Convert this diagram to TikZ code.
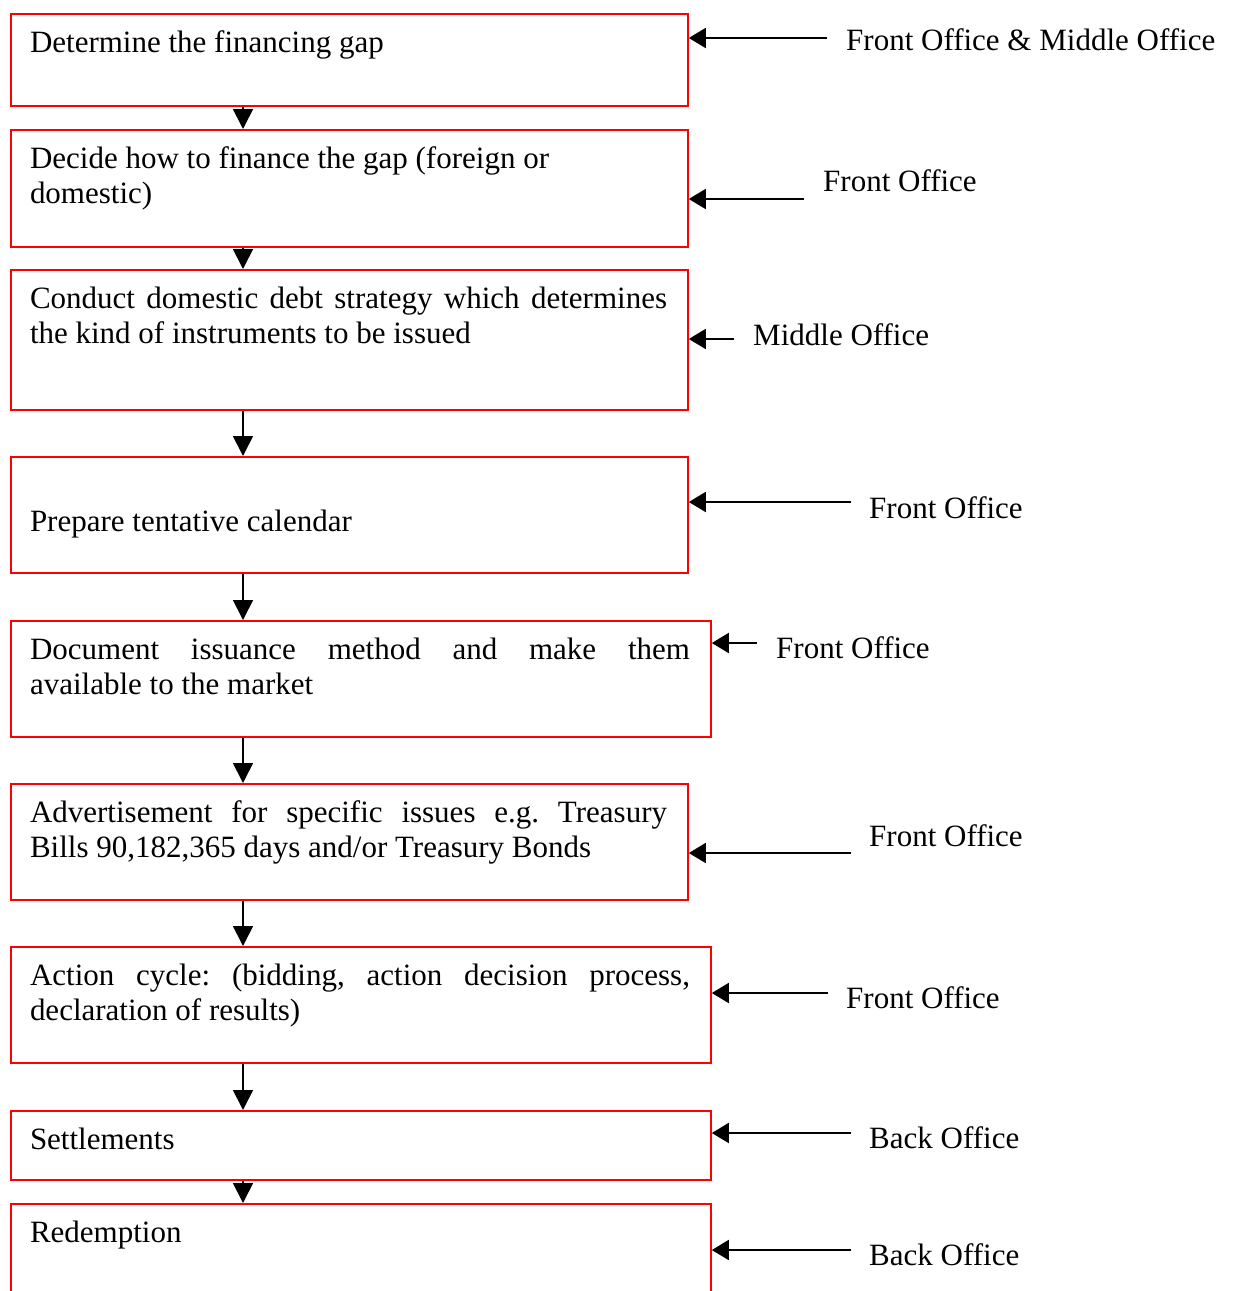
\documentclass[tikz,border=0pt]{standalone}
\usepackage{fontspec}
\setmainfont{Liberation Serif}
\usetikzlibrary{arrows.meta,calc}
\begin{document}
\begin{tikzpicture}[x=1pt,y=-1pt,
  box/.style={draw=red, line width=1.8pt, rectangle, inner sep=0pt, anchor=north west},
  txt/.style={inner sep=0pt, outer sep=0pt, anchor=base west, font=\fontsize{31}{35.5}\selectfont\frenchspacing},
  lab/.style={inner sep=0pt, anchor=base west, font=\fontsize{31}{35.5}\selectfont},
  arr/.style={line width=1.7pt, -{Triangle[length=17pt,width=20pt]}},
  varr/.style={line width=1.7pt, -{Triangle[length=20pt,width=20pt]}},
]
\useasboundingbox (0,0) rectangle (1236,1291);
\clip (0,0) rectangle (1236,1291);

% boxes
\node[box, minimum width=677pt, minimum height=92pt]  (b1) at (10,13) {};
\node[box, minimum width=677pt, minimum height=117pt] (b2) at (10,129) {};
\node[box, minimum width=677pt, minimum height=140pt] (b3) at (10,269) {};
\node[box, minimum width=677pt, minimum height=116pt] (b4) at (10,456) {};
\node[box, minimum width=700pt, minimum height=116pt] (b5) at (10,620) {};
\node[box, minimum width=677pt, minimum height=116pt] (b6) at (10,783) {};
\node[box, minimum width=700pt, minimum height=116pt] (b7) at (10,946) {};
\node[box, minimum width=700pt, minimum height=69pt]  (b8) at (10,1110) {};
\node[box, minimum width=700pt, minimum height=120pt] (b9) at (10,1203) {};

% box texts
\node[txt] (t1) at (30,52) {Determine the financing gap};
\node[txt, text width=637pt, align=flush left] (t2) at (30,168) {Decide how to finance the gap (foreign or\\ domestic)};
\node[txt, text width=637pt, align=justify] (t3) at (30,308) {Conduct domestic debt strategy which determines\linebreak the kind of instruments to be issued};
\node[txt] (t4) at (30,531) {Prepare tentative calendar};
\node[txt, text width=660pt, align=justify] (t5) at (30,659) {Document issuance method and make them\linebreak available to the market};
\node[txt, text width=637pt, align=justify] (t6) at (30,822) {Advertisement for specific issues e.g. Treasury\linebreak Bills 90,182,365 days and/or Treasury Bonds};
\node[txt, text width=660pt, align=justify] (t7) at (30,985) {Action cycle: (bidding, action decision process,\linebreak declaration of results)};
\node[txt] (t8) at (30,1149) {Settlements};
\node[txt] (t9) at (30,1242) {Redemption};

% vertical connectors
\foreach \a/\b in {b1/b2,b2/b3,b3/b4,b4/b5,b5/b6,b6/b7,b7/b8,b8/b9}
  \draw[varr] ($(\a.south west)+(233,0)$) -- ($(\b.north west)+(233,0)$);

% side labels
\node[lab] (l1) at (846,50)   {Front Office \& Middle Office};
\node[lab] (l2) at (823,191)  {Front Office};
\node[lab] (l3) at (753,345)  {Middle Office};
\node[lab] (l4) at (869,518)  {Front Office};
\node[lab] (l5) at (776,658)  {Front Office};
\node[lab] (l6) at (869,846)  {Front Office};
\node[lab] (l7) at (846,1008) {Front Office};
\node[lab] (l8) at (869,1148) {Back Office};
\node[lab] (l9) at (869,1265) {Back Office};

% side arrow tails
\coordinate (s1) at (827,38);
\coordinate (s2) at (804,199);
\coordinate (s3) at (734,339);
\coordinate (s4) at (851,502);
\coordinate (s5) at (757,643);
\coordinate (s6) at (851,853);
\coordinate (s7) at (828,993);
\coordinate (s8) at (851,1133);
\coordinate (s9) at (851,1250);

\foreach \i in {1,...,9}
  \draw[arr] (s\i) -- (s\i -| b\i.east);
\end{tikzpicture}
\end{document}
